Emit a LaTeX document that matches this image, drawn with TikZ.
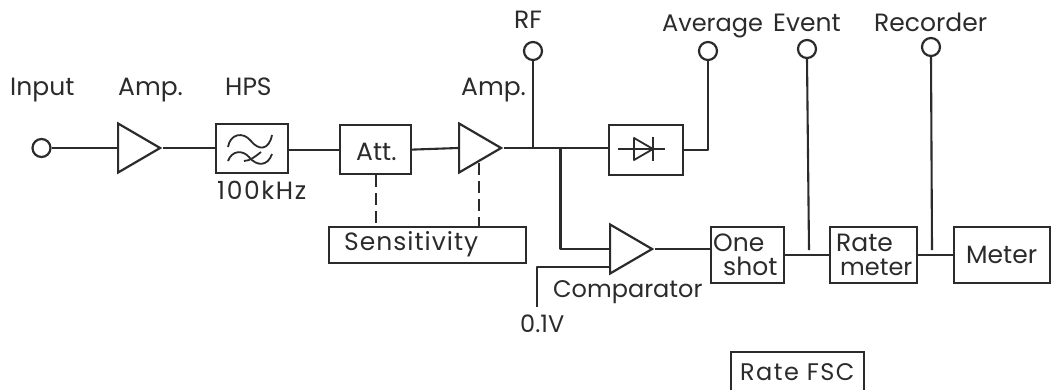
\documentclass[tikz,border=0pt]{standalone}
\usepackage{fontspec}
\setmainfont{Poppins}
\usetikzlibrary{shapes.geometric}
\definecolor{ink}{HTML}{2B2B2B}
\tikzset{
 wire/.style={line width=2.1pt,color=ink,line join=round},
 box/.style={draw=ink,line width=2.2pt,rectangle,inner sep=0pt,anchor=north west},
 amp/.style={draw=ink,line width=2.2pt,isosceles triangle,isosceles triangle stretches,inner sep=0pt,minimum height=42pt,minimum width=49pt,anchor=lower side},
 term/.style={draw=ink,line width=2.2pt,circle,inner sep=0pt,minimum size=18pt},
 lab/.style={inner sep=0pt,anchor=base west,text=ink,font=\fontsize{25}{28}\selectfont},
 labn/.style={lab,font=\fontsize{24}{28}\selectfont},
 labw/.style={lab,font=\fontsize{25}{28}\selectfont\addfontfeature{LetterSpace=4}},
 labx/.style={lab,font=\fontsize{25}{28}\selectfont\addfontfeature{LetterSpace=6.5}},
 labf/.style={lab,font=\fontsize{24}{28}\selectfont\addfontfeature{LetterSpace=6}},
}
\begin{document}
\begin{tikzpicture}[x=1pt,y=-1pt]
\useasboundingbox (0,0) rectangle (1051,389);
% terminals
\node[term] (inp) at (41.5,148) {};
\node[term] (rf) at (533,51) {};
\node[term] (avg) at (708,51) {};
\node[term] (ev) at (807,49) {};
\node[term] (rec) at (931,47) {};
% amplifiers
\node[amp] (a1) at (117,148) {};
\node[amp] (a2) at (458,148) {};
\node[amp] (cmp) at (609,249) {};
% boxes
\node[box,minimum width=72pt,minimum height=49pt] (hps) at (215,123) {};
\node[box,minimum width=71pt,minimum height=49pt] (att) at (339,124) {};
\node[box,minimum width=197pt,minimum height=36pt] (sens) at (328,226) {};
\node[box,minimum width=74pt,minimum height=50pt] (det) at (608,124) {};
\node[box,minimum width=73pt,minimum height=56pt] (one) at (710,226) {};
\node[box,minimum width=87pt,minimum height=56pt] (rm) at (829,226) {};
\node[box,minimum width=96pt,minimum height=56pt] (met) at (953,226) {};
\node[box,minimum width=133pt,minimum height=60pt] (fsc) at (730,351) {};
% labels
\node[lab] (l1) at (10,95) {Input};
\node[lab] (l2) at (118,95) {Amp.};
\node[lab] (l3) at (225,95) {HPS};
\node[lab] (l4) at (461,95) {Amp.};
\node[lab] (l5) at (514,28) {RF};
\node[labn] (l6) at (662,31) {Average};
\node[lab] (l7) at (773,31) {Event};
\node[lab] (l8) at (874,31) {Recorder};
\node[labx] (l9) at (217,199) {100kHz};
\node[lab] (l10) at (356,160) {Att.};
\node[labw] (l11) at (344,250) {Sensitivity};
\node[labn] (l12) at (553,297) {Comparator};
\node[labn] (l13) at (520,332) {0.1V};
\node[lab] (l14) at (713,251) {One};
\node[lab] (l15) at (723,275) {shot};
\node[lab] (l16) at (836,251) {Rate};
\node[labn] (l17) at (840,275) {meter};
\node[lab] (l18) at (966,263) {Meter};
\node[labf] (l19) at (740,380.5) {Rate FSC};
% junctions
\coordinate (jrf) at (rf.south |- a2.apex);
\coordinate (jb) at (560.5,148.5);
\coordinate (jcmp) at (jb |- cmp.lower side);
\coordinate (jev) at (809,250);
\coordinate (jrec) at (932,250);
\coordinate (ref1) at (609,267);
\coordinate (ref2) at (537,267);
\coordinate (ref3) at (537,307);
\coordinate (a2low) at (479,163);
% connectors
\draw[wire] (inp.east) -- (a1.lower side);
\draw[wire] (a1.apex) -- (a1.apex -| hps.west);
\draw[wire] (hps.east |- att.west) -- (att.west);
\draw[wire] (att.east) -- (a2.lower side);
\draw[wire] (a2.apex) -- (a2.apex -| det.west);
\draw[wire] (rf.south) -- (jrf);
\draw[wire] (jb) -- (jcmp) -- (cmp.lower side);
\draw[wire] (det.east) -- (det.east -| avg.south) -- (avg.south);
\draw[wire] (cmp.apex) -- (cmp.apex -| one.west);
\draw[wire] (ref1) -- (ref2) -- (ref3);
\draw[wire] (one.east) -- (rm.west);
\draw[wire] (rm.east) -- (met.west);
\draw[wire] (ev.south) -- (jev);
\draw[wire] (rec.south) -- (jrec);
\draw[wire,dash pattern=on 12pt off 6pt] (att.south) -- (att.south |- sens.north);
\draw[wire,dash pattern=on 12pt off 6pt] (a2low) -- (a2low |- sens.north);
% filter symbol
\draw[wire,line width=1.8pt] (228,147) .. controls (230,134) and (243,131) .. (251,141) .. controls (259,151) and (269,150) .. (272,135);
\draw[wire,line width=1.8pt] (228,161) .. controls (232,150) and (243,150) .. (249,157) .. controls (257,167) and (268,166) .. (272,154);
\draw[wire,line width=1.8pt] (244,161) .. controls (250,161) and (256,156) .. (261,152);
% diode symbol
\draw[wire,line width=1.8pt] (618,149) -- (665,149);
\draw[wire,line width=1.8pt] (634,138) -- (653,149) -- (634,160) -- cycle;
\draw[wire,line width=1.8pt] (653,137) -- (653,161);
\end{tikzpicture}
\end{document}
